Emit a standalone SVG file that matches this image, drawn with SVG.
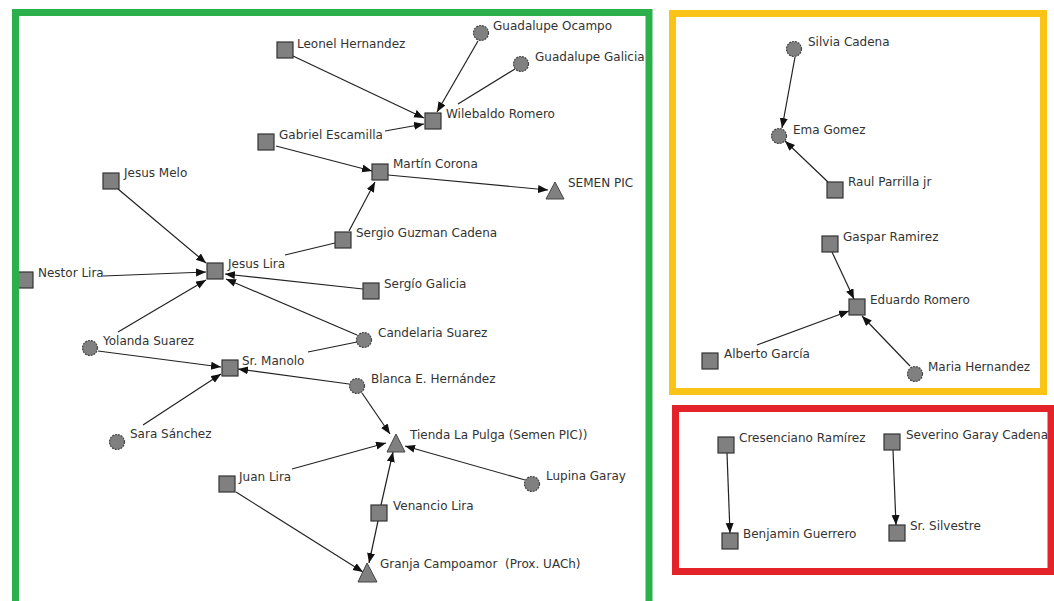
<svg xmlns="http://www.w3.org/2000/svg" width="1054" height="601" viewBox="0 0 1054 601">
<style>
.lbl{font-family:"DejaVu Sans","Liberation Sans",sans-serif;font-size:12px;fill:#333;white-space:pre}
.sq{fill:#808080;stroke:#333;stroke-width:1.2}
.ci{fill:#808080;stroke:#444;stroke-width:1.2;stroke-dasharray:2 1}
.tr{fill:#808080;stroke:#444;stroke-width:1}
.e{stroke:#222;stroke-width:1.2;fill:none}
.a{marker-end:url(#arr)}
.frame{fill:none;stroke-width:7}
</style>
<defs>
<marker id="arr" markerUnits="userSpaceOnUse" markerWidth="11" markerHeight="9" refX="10" refY="4" orient="auto">
<path d="M0,0 L10,4 L0,8 z" fill="#111"/>
</marker>
</defs>
<rect width="1054" height="601" fill="#fff"/>
<g id="connectors">
<line class="e a" x1="293" y1="56" x2="424" y2="118"/>
<line class="e a" x1="478" y1="41" x2="437" y2="112"/>
<line class="e" x1="515" y1="69" x2="458" y2="104"/>
<line class="e a" x1="385" y1="131" x2="424" y2="124"/>
<line class="e a" x1="276" y1="146" x2="372" y2="171"/>
<line class="e a" x1="388" y1="175" x2="548" y2="190"/>
<line class="e a" x1="349" y1="231" x2="375" y2="182"/>
<line class="e" x1="285" y1="255" x2="335" y2="243"/>
<line class="e a" x1="118" y1="189" x2="206" y2="263"/>
<line class="e a" x1="103" y1="276" x2="206" y2="272"/>
<line class="e a" x1="118" y1="332" x2="206" y2="280"/>
<line class="e a" x1="363" y1="289" x2="225" y2="274"/>
<line class="e a" x1="357" y1="335" x2="226" y2="279"/>
<line class="e" x1="357" y1="342" x2="308" y2="352"/>
<line class="e a" x1="98" y1="351" x2="221" y2="367"/>
<line class="e a" x1="143" y1="425" x2="221" y2="374"/>
<line class="e a" x1="349" y1="384" x2="238" y2="369"/>
<line class="e a" x1="362" y1="393" x2="390" y2="434"/>
<line class="e a" x1="292" y1="469" x2="386" y2="443"/>
<line class="e a" x1="525" y1="480" x2="405" y2="446"/>
<line class="e a" x1="381" y1="505" x2="393" y2="452"/>
<line class="e a" x1="378" y1="521" x2="369" y2="563"/>
<line class="e a" x1="236" y1="492" x2="363" y2="572"/>
<line class="e a" x1="795" y1="57" x2="782" y2="128"/>
<line class="e a" x1="828" y1="182" x2="785" y2="141"/>
<line class="e a" x1="832" y1="252" x2="854" y2="299"/>
<line class="e a" x1="757" y1="345" x2="849" y2="311"/>
<line class="e a" x1="910" y1="366" x2="862" y2="316"/>
<line class="e a" x1="727" y1="453" x2="730" y2="533"/>
<line class="e a" x1="893" y1="450" x2="896" y2="525"/>
</g>
<g id="n-leonel"><rect class="sq" x="277" y="42" width="16" height="16"/><text class="lbl" x="297" y="48">Leonel Hernandez</text></g>
<g id="n-gocampo"><circle class="ci" cx="481" cy="33" r="7.5"/><text class="lbl" x="493" y="30">Guadalupe Ocampo</text></g>
<g id="n-ggalicia"><circle class="ci" cx="521" cy="64" r="7.5"/><text class="lbl" x="535" y="61">Guadalupe Galicia</text></g>
<g id="n-wilebaldo"><rect class="sq" x="425" y="113" width="16" height="16"/><text class="lbl" x="446" y="118">Wilebaldo Romero</text></g>
<g id="n-gabriel"><rect class="sq" x="258" y="134" width="16" height="16"/><text class="lbl" x="279" y="139">Gabriel Escamilla</text></g>
<g id="n-martin"><rect class="sq" x="372" y="164" width="16" height="16"/><text class="lbl" x="393" y="168">Martín Corona</text></g>
<g id="n-semen"><polygon class="tr" points="555,182 564,199 546,199"/><text class="lbl" x="568" y="187">SEMEN PIC</text></g>
<g id="n-jmelo"><rect class="sq" x="103" y="173" width="16" height="16"/><text class="lbl" x="124" y="177">Jesus Melo</text></g>
<g id="n-sguzman"><rect class="sq" x="335" y="232" width="16" height="16"/><text class="lbl" x="356" y="237">Sergio Guzman Cadena</text></g>
<g id="n-nestor"><rect class="sq" x="17" y="272" width="16" height="16"/><text class="lbl" x="38" y="277">Nestor Lira</text></g>
<g id="n-jlira"><rect class="sq" x="207" y="263" width="16" height="16"/><text class="lbl" x="228" y="268">Jesus Lira</text></g>
<g id="n-sgalicia"><rect class="sq" x="363" y="283" width="16" height="16"/><text class="lbl" x="384" y="288">Sergío Galicia</text></g>
<g id="n-candelaria"><circle class="ci" cx="364" cy="340" r="7.5"/><text class="lbl" x="378" y="337">Candelaria Suarez</text></g>
<g id="n-yolanda"><circle class="ci" cx="90" cy="348" r="7.5"/><text class="lbl" x="103" y="345">Yolanda Suarez</text></g>
<g id="n-manolo"><rect class="sq" x="222" y="360" width="16" height="16"/><text class="lbl" x="242" y="365">Sr. Manolo</text></g>
<g id="n-blanca"><circle class="ci" cx="357" cy="386" r="7.5"/><text class="lbl" x="371" y="383">Blanca E. Hernández</text></g>
<g id="n-sara"><circle class="ci" cx="117" cy="442" r="7.5"/><text class="lbl" x="130" y="438">Sara Sánchez</text></g>
<g id="n-tienda"><polygon class="tr" points="396,434 405,452 387,452"/><text class="lbl" x="410" y="439">Tienda La Pulga (Semen PIC))</text></g>
<g id="n-juan"><rect class="sq" x="219" y="476" width="16" height="16"/><text class="lbl" x="239" y="481">Juan Lira</text></g>
<g id="n-lupina"><circle class="ci" cx="532" cy="484" r="7.5"/><text class="lbl" x="546" y="480">Lupina Garay</text></g>
<g id="n-venancio"><rect class="sq" x="371" y="505" width="16" height="16"/><text class="lbl" x="393" y="510">Venancio Lira</text></g>
<g id="n-granja"><polygon class="tr" points="367,563 377,582 358,582"/><text class="lbl" x="380" y="568">Granja Campoamor  (Prox. UACh)</text></g>
<g id="n-silvia"><circle class="ci" cx="794" cy="49" r="7.5"/><text class="lbl" x="808" y="46">Silvia Cadena</text></g>
<g id="n-ema"><circle class="ci" cx="779" cy="136" r="7.5"/><text class="lbl" x="793" y="134">Ema Gomez</text></g>
<g id="n-raul"><rect class="sq" x="827" y="182" width="16" height="16"/><text class="lbl" x="848" y="186">Raul Parrilla jr</text></g>
<g id="n-gaspar"><rect class="sq" x="822" y="236" width="16" height="16"/><text class="lbl" x="843" y="241">Gaspar Ramirez</text></g>
<g id="n-eduardo"><rect class="sq" x="849" y="299" width="16" height="16"/><text class="lbl" x="870" y="304">Eduardo Romero</text></g>
<g id="n-alberto"><rect class="sq" x="702" y="353" width="16" height="16"/><text class="lbl" x="724" y="358">Alberto García</text></g>
<g id="n-maria"><circle class="ci" cx="915" cy="374" r="7.5"/><text class="lbl" x="928" y="371">Maria Hernandez</text></g>
<g id="n-cresenciano"><rect class="sq" x="718" y="437" width="16" height="16"/><text class="lbl" x="739" y="442">Cresenciano Ramírez</text></g>
<g id="n-benjamin"><rect class="sq" x="722" y="533" width="16" height="16"/><text class="lbl" x="743" y="538">Benjamin Guerrero</text></g>
<g id="n-severino"><rect class="sq" x="884" y="434" width="16" height="16"/><text class="lbl" x="906" y="439">Severino Garay Cadena</text></g>
<g id="n-silvestre"><rect class="sq" x="889" y="525" width="16" height="16"/><text class="lbl" x="910" y="530">Sr. Silvestre</text></g>
<g id="frames">
<rect class="frame" x="15.5" y="12.5" width="633.5" height="600" stroke="#2bb04b"/>
<rect class="frame" x="672.5" y="13.5" width="371" height="378" stroke="#fac318"/>
<rect class="frame" x="675.5" y="408.5" width="375.5" height="163" stroke="#e3222a"/>
</g>
</svg>
